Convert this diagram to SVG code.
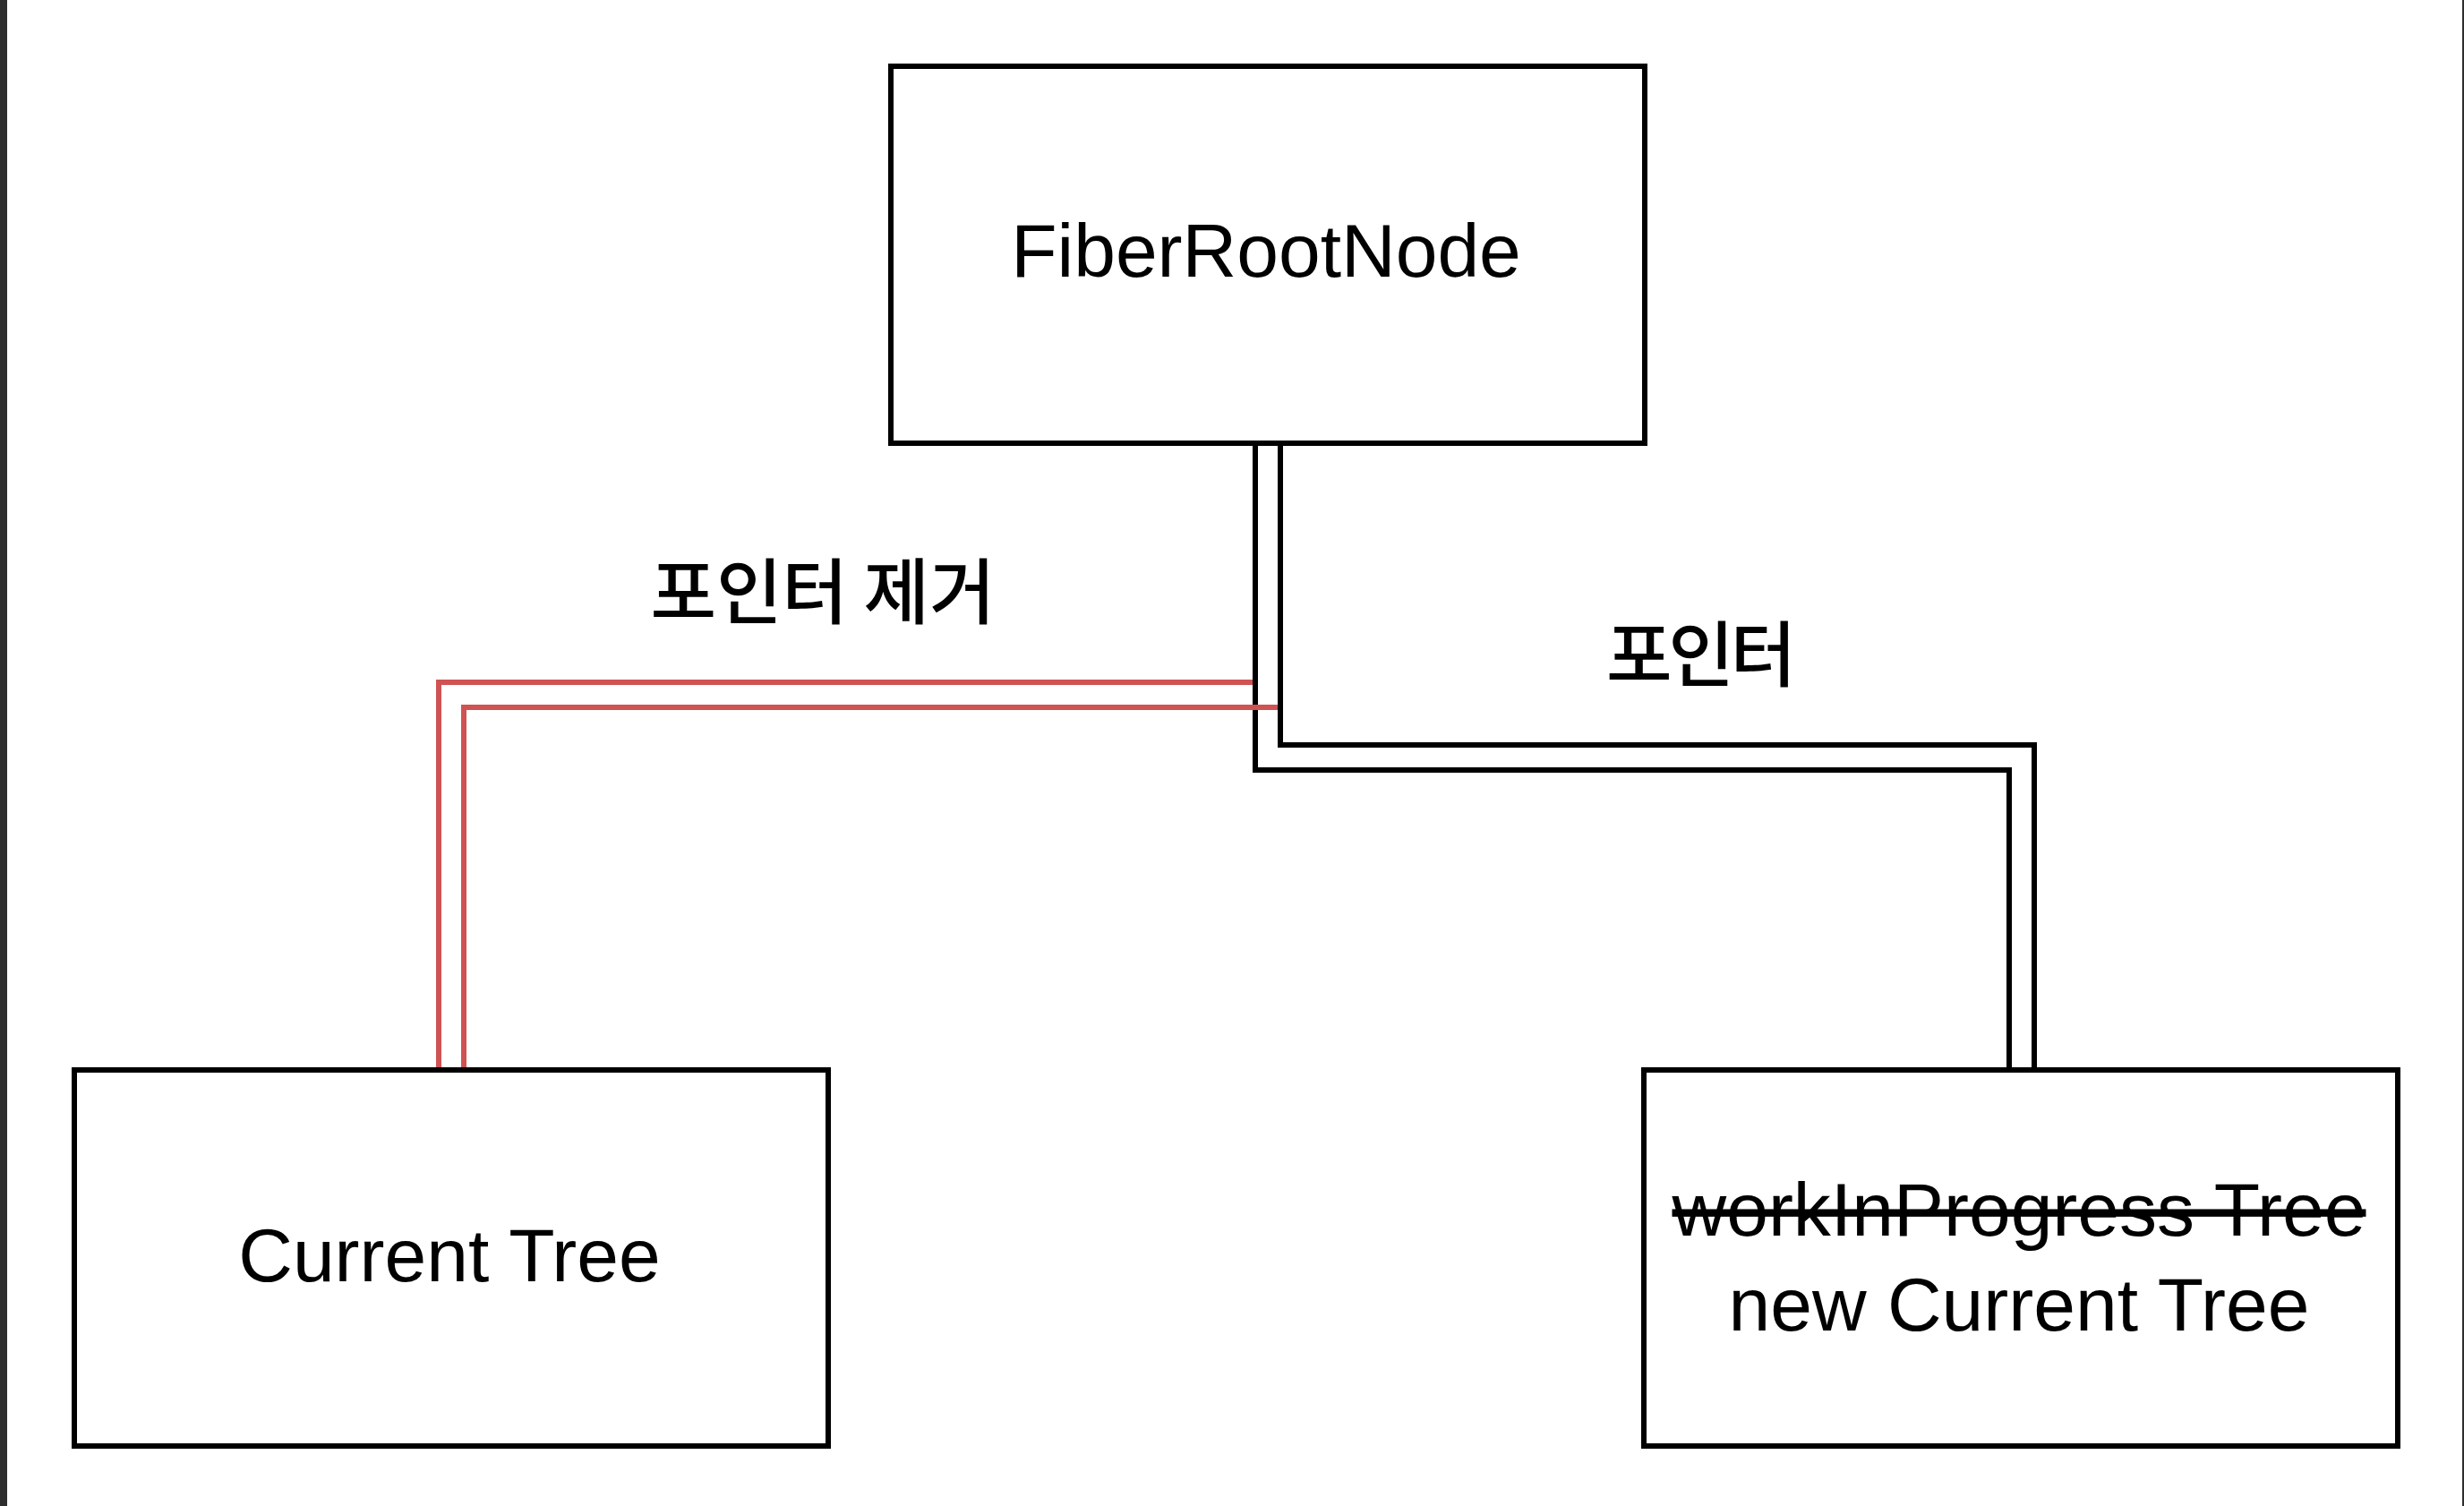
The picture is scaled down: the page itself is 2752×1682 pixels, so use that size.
<svg xmlns="http://www.w3.org/2000/svg" width="2752" height="1682" viewBox="0 0 2752 1682">
<style>
.node rect{fill:#ffffff;stroke:#000000;stroke-width:6}
.lbl{font-family:"Liberation Sans",Arial,Helvetica,sans-serif;font-size:84px;fill:#000000;text-anchor:middle}
.kr{font-family:"Noto Sans CJK KR","Noto Sans",sans-serif;font-size:80px;font-weight:500;fill:#000000;text-anchor:middle}
.blk{fill:none;stroke:#000000;stroke-width:6;stroke-linejoin:miter;stroke-linecap:butt}
.red{fill:none;stroke:#CF5353;stroke-width:6;stroke-linejoin:miter;stroke-linecap:butt}
</style>
<rect x="0" y="0" width="2752" height="1682" fill="#ffffff"/>
<rect x="0" y="0" width="8" height="1682" fill="#2e2e2e"/>
<rect x="2750" y="0" width="2" height="1682" fill="#2e2e2e"/>
<g id="connectors">
  <g id="link-root-wip">
    <polyline class="blk" points="1402,495 1402,860 2244,860 2244,1195"/>
    <polyline class="blk" points="1430,495 1430,832 2272,832 2272,1195"/>
  </g>
  <g id="link-root-current">
    <polyline class="red" points="1399,762 490,762 490,1195"/>
    <polyline class="red" points="1427,790 518,790 518,1195"/>
  </g>
  <text class="kr" x="919" y="690" textLength="385" lengthAdjust="spacing">포인터 제거</text>
  <text class="kr" x="1900" y="760" textLength="212" lengthAdjust="spacing">포인터</text>
</g>
<g id="fiberRootNode" class="node">
  <rect x="995" y="74" width="842" height="421"/>
  <text class="lbl" x="1414" y="309">FiberRootNode</text>
</g>
<g id="currentTree" class="node">
  <rect x="83" y="1195" width="842" height="420"/>
  <text class="lbl" x="502" y="1431">Current Tree</text>
</g>
<g id="newCurrentTree" class="node">
  <rect x="1836" y="1195" width="842" height="420"/>
  <text class="lbl" x="2255" y="1380" text-decoration="line-through">workInProgress Tree</text>
  <text class="lbl" x="2255" y="1486">new Current Tree</text>
</g>
</svg>
